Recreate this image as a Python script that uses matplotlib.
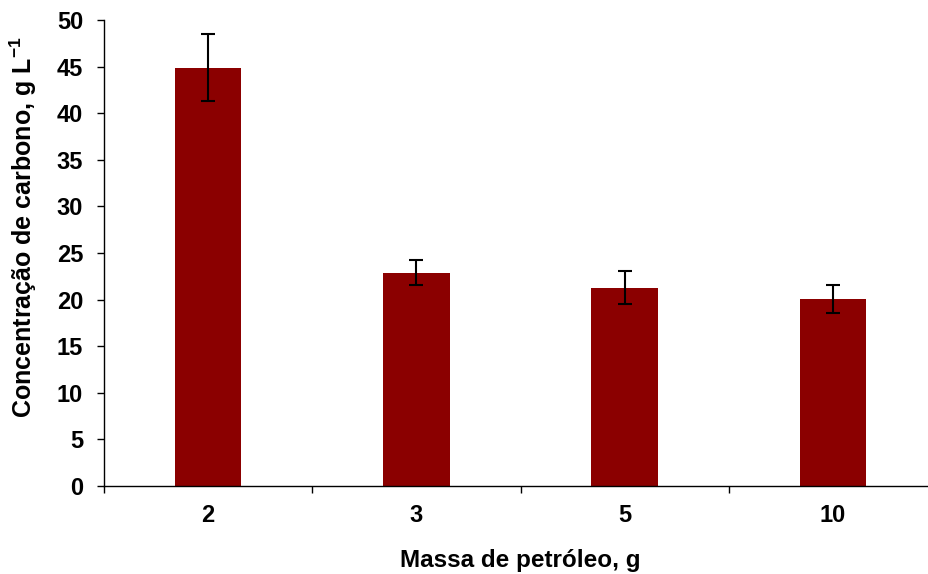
import numpy as np
import matplotlib
matplotlib.use('Agg')
import matplotlib.pyplot as plt
from matplotlib.ticker import FixedLocator

plt.rcParams['font.family'] = ['Liberation Sans', 'DejaVu Sans']
plt.rcParams['font.weight'] = 'bold'
plt.rcParams['mathtext.fontset'] = 'custom'
plt.rcParams['mathtext.rm'] = 'Liberation Sans:bold'
plt.rcParams['mathtext.it'] = 'Liberation Sans:bold'
plt.rcParams['mathtext.bf'] = 'Liberation Sans:bold'

# data
massa = ['2', '3', '5', '10']
concentracao = [44.9, 22.9, 21.3, 20.1]
erro = [3.6, 1.3, 1.8, 1.5]

fig = plt.figure(figsize=(9.29, 5.74), dpi=100)
ax = fig.add_axes([0.112, 0.1533, 0.8967, 0.8118])

x = np.arange(len(massa))
ax.bar(x, concentracao, width=0.32, color='#8B0000', zorder=2)
ax.errorbar(x, concentracao, yerr=erro, fmt='none', ecolor='black',
            elinewidth=1.5, capsize=5, capthick=1.5, zorder=3)

ax.set_xlim(-0.5, len(massa) - 0.5)
ax.set_ylim(0, 50)
ax.set_yticks(np.arange(0, 51, 5))
ax.set_xticks(x)
ax.set_xticklabels(massa)
ax.xaxis.set_minor_locator(FixedLocator(np.arange(-0.5, len(massa), 1)))
ax.tick_params(axis='x', which='major', length=0, pad=13, labelsize=17)
ax.tick_params(axis='x', which='minor', length=5, width=1, direction='out')
ax.tick_params(axis='y', length=5, width=1, direction='out', labelsize=17, pad=10)

for s in ['top', 'right']:
    ax.spines[s].set_visible(False)
for s in ['left', 'bottom']:
    ax.spines[s].set_linewidth(1)

ax.set_xlabel('Massa de petróleo, g', fontsize=17.5, fontweight='bold', labelpad=16)
ax.set_ylabel('Concentração de carbono, g L$^{-1}$', fontsize=18, fontweight='bold')
ax.yaxis.set_label_coords(-0.078, 0.555)

fig.savefig('out.png', dpi=100)
